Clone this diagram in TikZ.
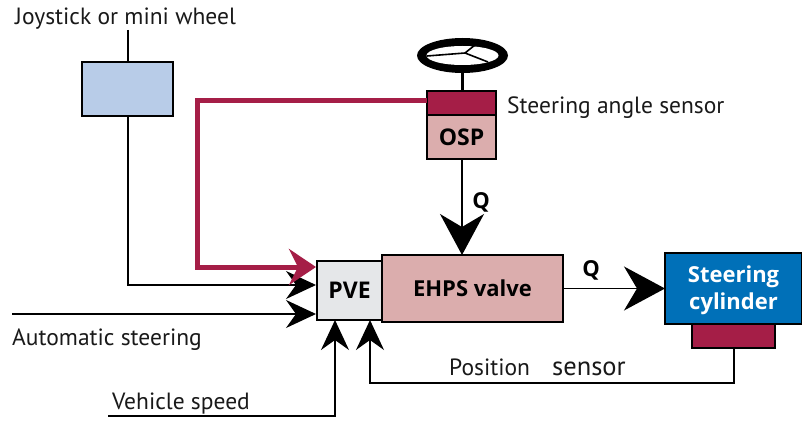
\documentclass[tikz,border=0pt]{standalone}
\usepackage{fontspec}
\setmainfont{PT Sans}
\newfontfamily\boldlabel[BoldFont={Open Sans Bold}]{Open Sans}
\usetikzlibrary{arrows.meta,calc}
\definecolor{crim}{HTML}{A51E47}
\definecolor{pinkb}{HTML}{DBADAD}
\definecolor{lblue}{HTML}{B8CCE8}
\definecolor{cylb}{HTML}{0070B8}
\definecolor{pveg}{HTML}{E5E7E9}
\tikzset{
  x=1pt,y=-1pt,
  blockbox/.style={draw=black,line width=2.6pt,inner sep=0pt,outer sep=0pt,anchor=north west},
  lbl/.style={inner sep=0pt,anchor=base west,font=\fontsize{23.5}{26}\selectfont,text=black!90},
  blbl/.style={inner sep=0pt,font=\fontsize{22}{24}\boldlabel\bfseries,text=black},
  conn/.style={draw=black,line width=1.4pt},
  smallhead/.style={-{Stealth[length=30pt,width=28pt,inset=10pt]}},
  bighead/.style={-{Stealth[length=41pt,width=44pt,inset=13pt]}},
}
\begin{document}
\begin{tikzpicture}
\useasboundingbox (0,0) rectangle (802,422);
% boxes
\node[blockbox,fill=lblue,minimum width=91pt,minimum height=54pt] (joy) at (82,62) {};
\node[blockbox,fill=crim,minimum width=69pt,minimum height=24pt] (sens) at (427,91) {};
\node[blockbox,fill=pinkb,minimum width=69pt,minimum height=44pt,font=\fontsize{23}{26}\boldlabel\bfseries] (osp) at (427,115) {OSP};
\node[blockbox,fill=pveg,minimum width=65pt,minimum height=59pt,font=\fontsize{23}{26}\boldlabel\bfseries] (pve) at (317,261) {PVE};
\node[blockbox,fill=pinkb,minimum width=181pt,minimum height=67pt,font=\fontsize{22}{26}\boldlabel\bfseries] (ehps) at (382,255) {EHPS valve};
\node[blockbox,fill=cylb,minimum width=137pt,minimum height=71pt] (cyl) at (665,253) {};
\node[inner sep=0pt,text=white,align=center,font=\fontsize{22}{26.5}\boldlabel\bfseries] (cyltext) at ($(cyl.center)+(0,2)$) {Steering\\cylinder};
\node[blockbox,fill=crim,minimum width=83pt,minimum height=24pt] (posb) at (692,324) {};
% steering wheel
\coordinate (wc) at (462.5,55.5);
\coordinate (wb) at (462,70);
\coordinate (hub) at (465,53);
\coordinate (s1) at (427,56);
\coordinate (s2) at (488,62);
\coordinate (s3) at (475,45);
\draw[line width=3pt] (wb) -- (sens.north -| wb);
\fill[black] (wc) ellipse [x radius=45.5,y radius=17.5];
\fill[white] (wc) ellipse [x radius=36,y radius=9.5];
\draw[line width=1.6pt] (s1) -- (hub) -- (s2) (hub) -- (s3);
% labels
\node[lbl] (tjoy) at (15,25) {Joystick or mini wheel};
\node[lbl] (tsens) at (507,114) {Steering angle sensor};
\node[lbl] (tauto) at (12,345) {Automatic steering};
\node[lbl] (tveh) at (112,409) {Vehicle speed};
\node[lbl] (tpos) at (449,375) {Position};
\node[lbl,font=\fontsize{26.5}{28}\selectfont] (tsen2) at (552,375) {sensor};
\node[blbl] (q1) at (481,202) {Q};
\node[blbl] (q2) at (591,270) {Q};
% named connector ends
\coordinate (jtop) at (128,30);
\coordinate (jbot) at (128,116);
\coordinate (jin) at (316,285);
\coordinate (ain) at (12,314);
\coordinate (aend) at (316,314);
\coordinate (rbend) at (197,101);
\coordinate (rin) at (316,267);
\coordinate (vs) at (108,416);
\coordinate (vin) at (335,320);
\coordinate (pin) at (370,320);
\coordinate (pl) at (734,348);
\coordinate (qo) at (462,159);
% connectors
\draw[conn] (jtop) -- (jtop |- joy.north);
\draw[conn,smallhead] (jbot) |- (jin);
\draw[conn,smallhead] (ain) -- (aend);
\draw[conn,smallhead] (vs) -| (vin);
\draw[conn,smallhead] (pl) |- (370,383) -- (pin);
\draw[draw=crim,line width=5pt,line join=miter,-{Stealth[length=27pt,width=36pt,inset=9pt]}] (sens.west |- rbend) -- (rbend) -- (rbend |- rin) -- (rin);
\draw[conn,bighead] (qo) -- (qo |- ehps.north);
\draw[conn,bighead] (ehps.east |- cyl.west) -- (cyl.west);
\end{tikzpicture}
\end{document}
